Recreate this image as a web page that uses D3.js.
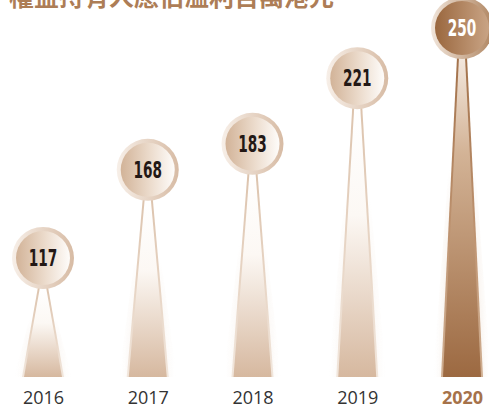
<!DOCTYPE html>
<html><head><meta charset="utf-8">
<script src="https://cdn.jsdelivr.net/npm/d3@7"></script>
<style>
html,body{margin:0;padding:0;background:#fff;overflow:hidden;}
svg{display:block;}
</style></head>
<body>
<svg id="chart" width="489" height="406"></svg>
<script>
const title = "權益持有人應佔溢利百萬港元";
const years = ["2016", "2017", "2018", "2019", "2020"];
const values = [117, 168, 183, 221, 250];
const highlight = "2020";

const W = 489, H = 406;
const svg = d3.select("#chart");
const defs = svg.append("defs");

const x = d3.scalePoint().domain(years).range([43, 462]);
const y = d3.scaleLinear().domain([117, 250]).range([258, 28]);
const baseY = 377;
const R = 31, r = 27;

function linGrad(id, dir, stops) {
  const g = defs.append("linearGradient").attr("id", id);
  if (dir === "h") g.attr("x1", 0).attr("y1", 0).attr("x2", 1).attr("y2", 0);
  else g.attr("x1", 0).attr("y1", 0).attr("x2", 0).attr("y2", 1);
  stops.forEach(s => g.append("stop").attr("offset", s[0]).attr("stop-color", s[1]).attr("stop-opacity", s[2] == null ? 1 : s[2]));
}
// normal
linGrad("ringN", "h", [[0, "#f7efe8"], [1, "#d7bba4"]]);
linGrad("discN", "h", [[0, "#d2b398"], [0.55, "#ecdccd"], [1, "#fefcfa"]]);
linGrad("edgeN", "v", [[0, "#dcc3ad"], [0.6, "#e9d8c9"], [1, "#f1e6dc"]]);
linGrad("innerN", "v", [[0, "#ffffff"], [0.4, "#fcf8f4"], [1, "#d6b89f"]]);
linGrad("glowN", "h", [[0, "#ffffff", 0], [0.3, "#f1e5da", 0.8], [0.5, "#f1e5da", 1], [0.7, "#f1e5da", 0.8], [1, "#ffffff", 0]]);
// highlight
linGrad("ringH", "h", [[0, "#f1e5da"], [1, "#b08662"]]);
linGrad("discH", "h", [[0, "#9a673e"], [1, "#c9a485"]]);
linGrad("edgeH", "v", [[0, "#a3724b"], [0.6, "#c09674"], [1, "#cfae91"]]);
linGrad("innerH", "v", [[0, "#f3e8de"], [0.3, "#d3b396"], [1, "#9c6941"]]);
linGrad("glowH", "h", [[0, "#ffffff", 0], [0.3, "#e6d2bf", 0.8], [0.5, "#e6d2bf", 1], [0.7, "#e6d2bf", 0.8], [1, "#ffffff", 0]]);
// vertical fade mask for glow
linGrad("fadeV", "v", [[0, "#000"], [0.35, "#000"], [1, "#fff"]]);
const mask = defs.append("mask").attr("id", "glowMask").attr("maskContentUnits", "objectBoundingBox");
mask.append("rect").attr("width", 1).attr("height", 1).attr("fill", "url(#fadeV)");

// title
svg.append("text")
  .attr("x", 9).attr("y", 6)
  .attr("font-family", "'Noto Sans CJK TC','Noto Sans CJK SC',sans-serif")
  .attr("font-weight", 700)
  .attr("font-size", 25)
  .attr("fill", "#ad7d56")
  .text(title);

const data = years.map((yr, i) => ({ year: yr, value: values[i] }));

const g = svg.selectAll("g.item").data(data).join("g").attr("class", "item");

function poly(c, top, htTop, htBot) {
  return [[c - htTop, top], [c + htTop, top], [c + htBot, baseY], [c - htBot, baseY]].map(p => p.join(",")).join(" ");
}

g.each(function(d) {
  const sel = d3.select(this);
  const hi = d.year === highlight;
  const k = hi ? "H" : "N";
  const cx = x(d.year), cy = y(d.value);
  const top = cy + R - 2;
  sel.append("polygon").attr("points", poly(cx, top, 5, 29))
    .attr("fill", `url(#glow${k})`).attr("mask", "url(#glowMask)");
  sel.append("polygon").attr("points", poly(cx, top, 5, 21)).attr("fill", `url(#edge${k})`);
  sel.append("polygon").attr("points", poly(cx, top, 3, 19)).attr("fill", `url(#inner${k})`);
  sel.append("circle").attr("cx", cx).attr("cy", cy).attr("r", R).attr("fill", `url(#ring${k})`);
  sel.append("circle").attr("cx", cx).attr("cy", cy).attr("r", r).attr("fill", `url(#disc${k})`);
  sel.append("text")
    .attr("transform", `translate(${cx},${cy + 8}) scale(0.66,1)`)
    .attr("text-anchor", "middle")
    .attr("font-family", "'DejaVu Sans Condensed','DejaVu Sans',sans-serif")
    .attr("font-weight", 700)
    .attr("font-size", 23)
    .attr("fill", hi ? "#ffffff" : "#231815")
    .text(d.value);
});

// x axis labels
const axis = d3.axisBottom(x).tickSize(0).tickPadding(0);
const ax = svg.append("g").attr("transform", `translate(0,${baseY})`).call(axis);
ax.select(".domain").remove();
ax.selectAll("text")
  .attr("y", 27).attr("dy", 0)
  .attr("font-family", "'Open Sans',sans-serif")
  .attr("font-size", 18)
  .attr("font-weight", d => d === highlight ? 700 : 400)
  .attr("fill", d => d === highlight ? "#a6724a" : "#333333");
</script>
</body></html>
